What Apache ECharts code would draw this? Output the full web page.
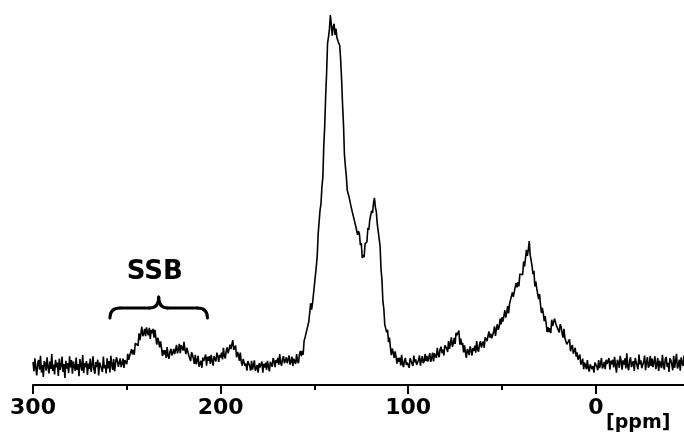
<!DOCTYPE html>
<html>
<head>
<meta charset="utf-8">
<script src="https://cdn.jsdelivr.net/npm/echarts@6/dist/echarts.min.js"></script>
<style>
  html, body { margin: 0; padding: 0; background: #fff; }
  #chart { width: 684px; height: 439px; }
</style>
</head>
<body>
<div id="chart"></div>
<script>
// 13C CP-MAS spectrum, intensity sampled every 0.5 ppm (arbitrary units, tallest peak = 100)
const ppmStep = 0.5;

// 300 ppm down to 160.5 ppm: baseline and spinning side bands
const sidebandStart = 300;
const sidebandRegion = [
  1.1,-1.5,2.2,-0.6,-2.7,0.8,1.7,-1.0,2.9,-1.8,
  0.3,-3.1,1.4,0.7,-1.3,2.5,-0.3,-2.1,1.3,-0.8,
  3.4,-1.4,0.4,-2.4,1.8,-0.4,1.0,-2.8,2.1,-1.1,
  0.1,2.7,-1.7,0.6,-3.4,1.5,-0.7,0.8,-2.0,2.8,
  -0.4,1.7,-2.2,1.3,-0.1,-1.4,2.4,-1.1,0.6,-2.9,
  2.0,0.3,-1.3,3.1,-2.0,0.8,-0.4,1.4,-2.5,0.7,
  -0.8,2.1,-1.7,0.4,2.8,-1.0,-2.2,1.1,-0.3,1.8,
  -2.7,1.0,1.5,-0.7,-1.7,2.7,-0.6,0.3,-2.1,2.2,
  -0.7,1.4,-1.8,2.9,0.3,-1.1,2.0,-1.5,0.8,2.5,
  1.4,-0.2,1.0,2.2,-0.3,0.7,2.1,-0.5,1.7,1.5,
  0.5,3.5,1.8,1.3,3.9,4.8,3.3,4.6,3.2,6.5,
  6.6,6.4,5.8,9.3,7.4,9.2,11.2,8.5,9.3,10.6,
  8.5,11.0,9.6,8.8,10.9,7.7,10.3,9.3,10.6,8.1,
  10.3,8.0,6.1,8.1,7.0,5.3,7.0,5.2,2.9,4.5,
  3.3,4.5,2.3,5.4,2.9,2.1,4.1,4.9,3.0,3.8,
  4.9,3.4,4.7,6.0,3.6,4.7,6.3,3.7,5.9,5.6,
  4.4,6.9,4.6,3.4,5.2,5.4,3.1,3.6,1.4,3.9,
  3.2,2.1,0.6,3.2,0.5,1.6,2.9,-0.2,0.3,1.5,
  -0.5,2.4,1.4,1.0,3.3,0.1,2.6,1.5,2.8,0.6,
  3.2,1.5,0.1,2.8,2.3,1.3,3.8,2.8,1.2,3.2,
  2.4,3.8,1.9,5.2,2.8,2.2,4.3,5.3,3.6,4.7,
  6.1,4.8,6.2,7.4,4.6,5.0,5.8,2.5,4.0,3.2,
  1.5,3.8,1.3,0.1,2.0,2.3,0.1,0.7,-1.3,1.4,
  0.9,0.0,-1.3,1.5,-1.0,0.2,1.6,-1.4,-0.9,0.3,
  -1.9,0.8,-0.4,-0.9,1.3,-1.9,0.6,-0.4,1.0,-1.1,
  1.5,-0.2,-1.5,1.2,0.8,-0.2,2.3,1.3,-0.3,1.7,
  0.9,2.3,0.3,3.4,0.9,0.1,2.0,2.8,0.8,1.5,
  2.5,0.8,1.9,3.0,0.4,1.3,2.7,0.0,2.1,1.8
];

// 160 ppm down to 100.5 ppm: aromatic / olefinic carbons
const aromaticStart = 160;
const aromaticRegion = [
  0.6,3.4,1.4,0.8,3.3,4.3,2.8,4.3,3.2,7.2,
  8.1,8.3,8.1,11.5,12.6,15.2,17.9,16.1,17.9,20.5,
  20.0,25.7,28.3,31.4,37.6,38.1,44.4,46.2,51.0,53.8,
  62.8,68.5,77.0,83.4,91.9,93.7,96.0,100,97.1,94.1,
  96.8,97.5,94.3,96.1,93.5,93.9,91.9,91.3,87.1,81.5,
  74.5,68.9,60.2,56.9,54.1,50.1,50.4,48.1,48.3,45.5,
  46.0,43.2,43.7,43.0,39.9,40.0,37.4,38.4,37.6,34.4,
  35.0,30.8,31.6,31.0,34.8,34.6,35.4,39.4,38.8,41.6,
  41.4,44.3,43.6,46.5,47.9,45.2,44.0,40.5,40.4,36.3,
  34.2,27.6,24.6,18.4,16.3,11.8,12.2,9.6,10.3,6.8,
  8.1,5.3,3.1,5.0,3.9,2.3,4.2,2.7,0.7,2.3,
  1.2,2.4,0.2,3.2,0.6,-0.3,1.6,2.3,0.3,1.0
];

// 100 ppm down to -47 ppm: aliphatic carbons and baseline
const aliphaticStart = 100;
const aliphaticRegion = [
  1.5,-0.5,2.2,2.1,0.7,0.0,3.0,1.1,1.9,0.3,
  0.6,1.7,3.0,0.1,1.7,2.8,0.8,1.4,3.4,1.4,
  2.9,1.3,2.5,3.7,1.2,2.3,3.8,1.3,3.6,3.4,
  2.3,5.2,3.3,2.5,4.8,5.5,3.7,4.7,3.0,5.9,
  5.6,5.0,4.0,7.1,4.9,6.5,8.2,5.5,6.3,8.0,
  6.3,9.5,8.8,8.4,10.1,6.1,7.8,6.0,6.6,3.9,
  5.9,3.9,2.3,4.8,4.2,3.1,5.6,4.6,3.0,5.1,
  4.3,5.8,3.8,7.1,4.7,4.1,6.2,7.1,5.3,6.3,
  7.0,5.2,8.2,8.2,7.1,6.6,9.9,8.1,9.2,7.9,
  8.4,9.7,11.3,8.6,10.5,11.9,10.3,11.2,13.5,11.9,
  13.9,12.7,14.3,15.9,13.8,15.2,17.1,15.0,17.7,18.1,
  17.6,21.0,19.7,19.5,22.4,23.6,22.4,23.9,22.7,26.2,
  26.5,26.4,26.0,29.8,28.3,30.6,33.1,31.4,33.0,35.6,
  31.7,32.2,28.5,26.2,27.1,22.7,24.1,22.1,22.5,19.1,
  20.5,17.6,15.1,16.6,15.0,12.8,14.2,12.2,9.7,11.1,
  9.7,10.8,9.4,13.2,11.4,11.1,13.5,14.0,11.5,11.9,
  12.0,9.6,11.9,11.2,9.3,8.1,10.6,8.0,8.3,6.2,
  6.1,6.7,7.6,4.2,5.4,6.0,3.5,3.6,5.2,2.7,
  3.9,1.8,2.6,3.3,0.4,1.0,2.1,-0.9,1.0,0.5,
  -0.9,1.7,-0.6,-1.6,0.5,1.0,-0.9,0.0,-1.9,1.0,
  0.7,-0.1,-1.2,1.7,-0.6,0.7,2.3,-0.7,0.0,1.2,
  -0.9,1.8,0.6,0.1,2.3,-1.0,1.5,0.5,1.8,-0.4,
  2.6,0.1,-1.9,1.8,1.1,-0.5,2.9,1.4,-1.0,1.6,
  0.4,2.2,-0.7,3.6,0.0,-1.2,1.5,2.5,-0.3,0.7,
  1.4,-1.4,2.3,2.1,0.1,-0.9,3.3,0.5,1.6,-0.6,
  -0.2,1.2,3.0,-1.2,1.1,2.5,-0.5,0.2,2.9,0.0,
  2.1,-0.3,1.2,2.8,-0.9,0.4,2.3,-1.4,1.5,1.1,
  -0.6,3.2,0.2,-1.0,1.9,2.6,-0.2,0.9,-1.7,2.2,
  1.6,0.5,-1.2,2.9,-0.5,1.4,3.5,-0.7,0.1,1.8,
  -1.3,2.5,0.8,0.0,3.0
];

// axis layout
const ppmMin = -47;
const ppmMax = 300;
const majorTicks = [300, 200, 100, 0];
const minorTicks = [250, 150, 50];

// side band annotation (ppm positions)
const sidebandLabel = 'SSB';
const sidebandFrom = 259;
const sidebandTo = 207;
const sidebandCenter = 233;
const unitLabel = '[ppm]';

function toPoints(start, values) {
  return values.map((v, i) => [start - i * ppmStep, v]);
}
const spectrum = []
  .concat(toPoints(sidebandStart, sidebandRegion))
  .concat(toPoints(aromaticStart, aromaticRegion))
  .concat(toPoints(aliphaticStart, aliphaticRegion));

const FONT = "'DejaVu Sans', Verdana, sans-serif";
const chart = echarts.init(document.getElementById('chart'), null, { renderer: 'canvas' });

chart.setOption({
  animation: false,
  backgroundColor: '#ffffff',
  grid: { left: 33, right: 0, top: 15, bottom: 54, containLabel: false, outerBoundsMode: 'none' },
  xAxis: [{
    type: 'value',
    inverse: true,
    min: ppmMin,
    max: ppmMax,
    position: 'bottom',
    splitLine: { show: false },
    axisLine: { show: true, onZero: false, lineStyle: { color: '#000', width: 2 } },
    axisTick: { show: true, customValues: majorTicks, length: 9, lineStyle: { color: '#000', width: 2 } },
    axisLabel: {
      customValues: majorTicks,
      margin: 12,
      color: '#000',
      fontFamily: FONT,
      fontWeight: 'bold',
      fontSize: 22
    }
  }, {
    type: 'value',
    inverse: true,
    min: ppmMin,
    max: ppmMax,
    position: 'bottom',
    splitLine: { show: false },
    axisLine: { show: false, onZero: false },
    axisTick: { show: true, customValues: minorTicks, length: 5, lineStyle: { color: '#000', width: 2 } },
    axisLabel: { show: false }
  }],
  yAxis: {
    type: 'value',
    min: -5.4,
    max: 100,
    show: false
  },
  series: [{
    type: 'line',
    data: spectrum,
    showSymbol: false,
    symbol: 'none',
    clip: false,
    sampling: null,
    lineStyle: { color: '#000', width: 1.6 },
    silent: true
  }]
});

// annotation: side band brace and label, unit label
const xL = chart.convertToPixel({ xAxisIndex: 0 }, sidebandFrom);
const xR = chart.convertToPixel({ xAxisIndex: 0 }, sidebandTo);
const xC = chart.convertToPixel({ xAxisIndex: 0 }, sidebandCenter);
const yEnd = 318, yBar = 308, yTip = 297;
const braceStyle = { stroke: '#000', lineWidth: 3, lineCap: 'round', fill: null };

function curve(x1, y1, cx, cy, x2, y2) {
  return { type: 'bezierCurve', shape: { x1: x1, y1: y1, cpx1: cx, cpy1: cy, x2: x2, y2: y2 }, style: braceStyle, silent: true };
}
function segment(x1, y1, x2, y2) {
  return { type: 'line', shape: { x1: x1, y1: y1, x2: x2, y2: y2 }, style: braceStyle, silent: true };
}

chart.setOption({
  graphic: [
    curve(xL, yEnd, xL, yBar, xL + 10, yBar),
    segment(xL + 10, yBar, xC - 9, yBar),
    curve(xC - 9, yBar, xC, yBar, xC, yTip),
    curve(xC, yTip, xC, yBar, xC + 9, yBar),
    segment(xC + 9, yBar, xR - 10, yBar),
    curve(xR - 10, yBar, xR, yBar, xR, yEnd),
    {
      type: 'text',
      x: xC - 4,
      y: 272,
      style: {
        text: sidebandLabel,
        font: 'bold 26px ' + FONT,
        fill: '#000',
        align: 'center',
        verticalAlign: 'middle'
      },
      silent: true
    },
    {
      type: 'text',
      x: 606,
      y: 423,
      style: {
        text: unitLabel,
        font: 'bold 19px ' + FONT,
        fill: '#000',
        align: 'left',
        verticalAlign: 'middle'
      },
      silent: true
    }
  ]
});
</script>
</body>
</html>
